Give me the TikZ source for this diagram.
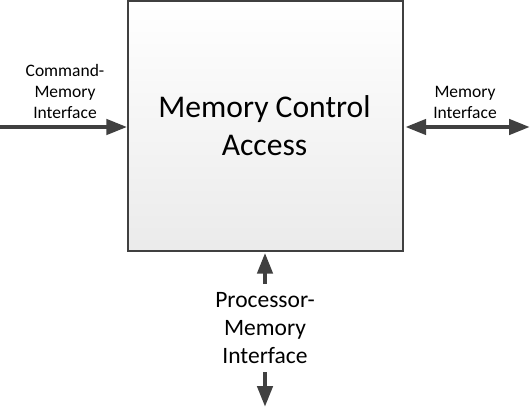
\documentclass[tikz,border=0pt]{standalone}
\usepackage{fontspec}
\setmainfont{Carlito}
\usetikzlibrary{arrows.meta}
\definecolor{dgray}{HTML}{404040}
\begin{document}
\begin{tikzpicture}[x=1pt,y=1pt,
  arr/.style={draw=dgray,line width=4.5pt,-{Triangle[length=21pt,width=15pt]}},
  darr/.style={draw=dgray,line width=4.5pt,{Triangle[length=21pt,width=15pt]}-{Triangle[length=21pt,width=15pt]}},
  mainbox/.style={draw=dgray,line width=1.4pt,top color=white,bottom color=black!8,minimum width=275pt,minimum height=250pt,inner sep=0pt},
  smalltxt/.style={align=center,font=\fontsize{17.5}{21}\selectfont,inner sep=0pt},
  midtxt/.style={align=center,font=\fontsize{23.5}{28}\selectfont,inner sep=0pt},
  bigtxt/.style={align=center,font=\fontsize{31.6}{38}\selectfont,inner sep=0pt}]
\useasboundingbox (0,-407) rectangle (530,0);
\node[mainbox] (mca) at (265.5,-126) {};
\node[bigtxt] (mcat) at (264.5,-126) {Memory Control\\Access};
\node[smalltxt] (cmi) at (65,-91) {Command-\\Memory\\Interface};
\node[smalltxt] (mi) at (465,-102) {Memory\\Interface};
\node[midtxt] (pmi) at (265,-328) {Processor-\\Memory\\Interface};
\coordinate (lin) at (0,-127);
\coordinate (rout) at (530,-127);
\coordinate (bup) at (265,-284);
\coordinate (bdt) at (265,-372);
\coordinate (bdb) at (265,-407);
\draw[arr] (lin) -- (lin -| mca.west);
\draw[darr,shorten <=1.5pt] (rout -| mca.east) -- (rout);
\draw[arr,shorten >=1pt] (bup) -- (bup |- mca.south);
\draw[arr] (bdt) -- (bdb);
\end{tikzpicture}
\end{document}
